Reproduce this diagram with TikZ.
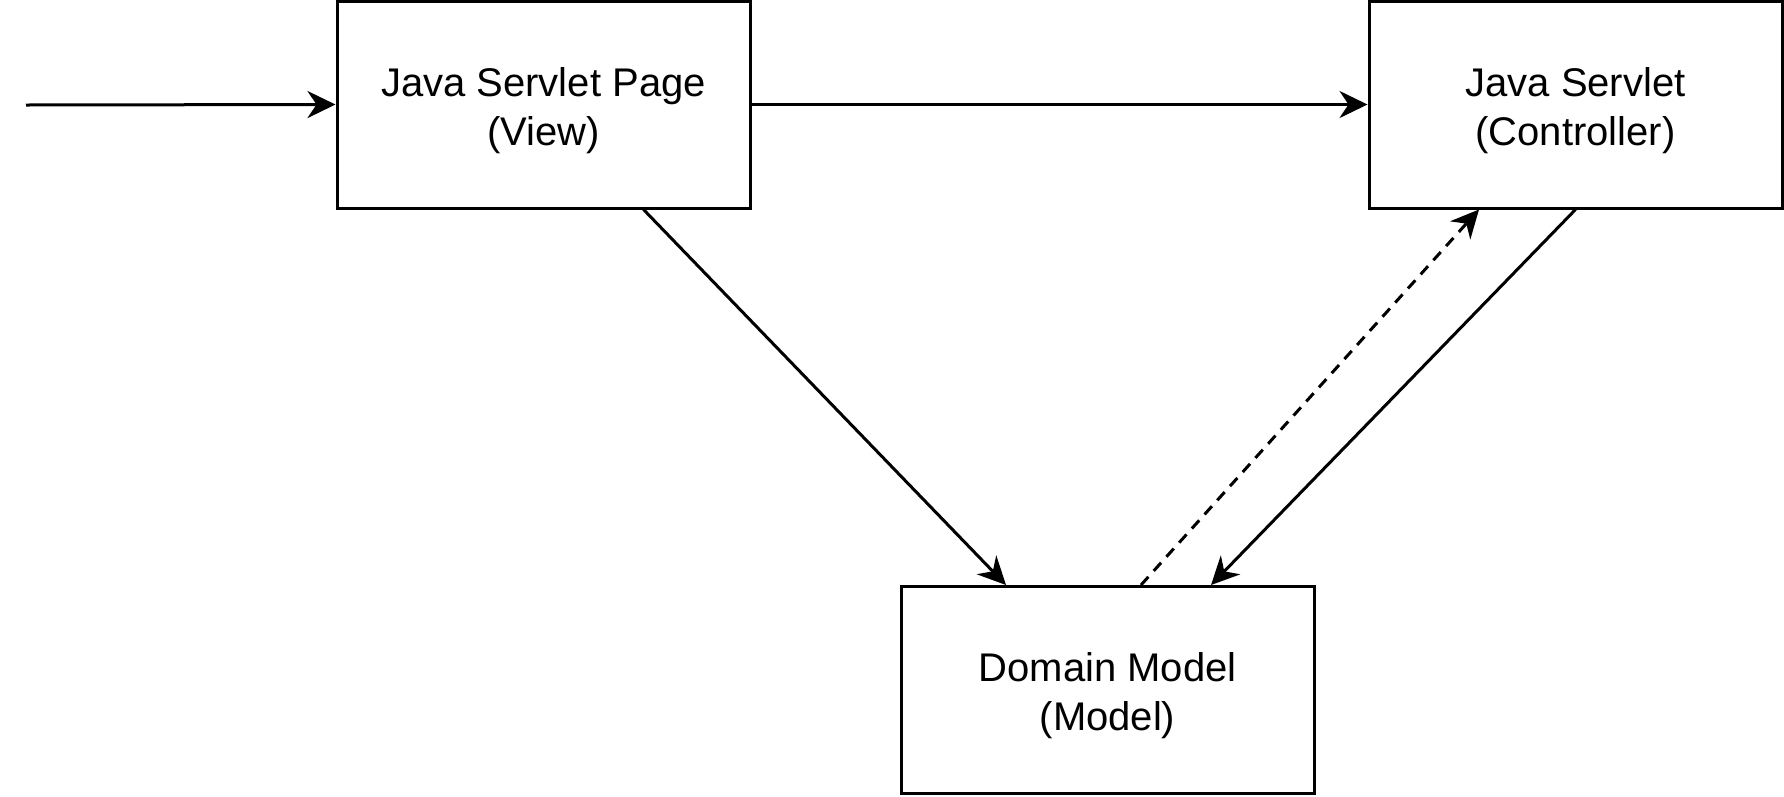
\documentclass[tikz,border=0pt]{standalone}
\usepackage{fontspec}
\setmainfont{Liberation Sans}
\usetikzlibrary{arrows.meta}
\begin{document}
\begin{tikzpicture}[x=1pt,y=-1pt,
  box/.style={draw=black,line width=3pt,fill=white,minimum width=413pt,minimum height=207pt,
    inner sep=0pt},
  label/.style={align=center,font=\fontsize{40}{49}\selectfont},
  conn/.style={draw=black,line width=3pt,-{Stealth[length=28pt,width=27pt,inset=9pt]}},
  dashconn/.style={conn,dash pattern=on 11pt off 8pt}]
\useasboundingbox (0,0) rectangle (1784,796);
\node[box] (view) at (543.5,104.5) {};
\node[box] (ctrl) at (1575.5,104.5) {};
\node[box] (model) at (1107.5,690) {};
\node[label] (viewt) at ([yshift=-6pt]view.center) {Java Servlet Page\\(View)};
\node[label] (ctrlt) at ([yshift=-6pt]ctrl.center) {Java Servlet\\(Controller)};
\node[label] (modelt) at ([yshift=-6pt]model.center) {Domain Model\\(Model)};
\coordinate (in) at (26,105);
\draw[conn] (in) -- (view.west);
\draw[conn] (view.east) -- (ctrl.west);
\draw[conn] ([xshift=100pt]view.south) -- ([xshift=-101.5pt]model.north);
\draw[conn] (ctrl.south) -- ([xshift=103.5pt]model.north);
\draw[dashconn] ([xshift=33.5pt]model.north) -- ([xshift=-96.5pt]ctrl.south);
\end{tikzpicture}
\end{document}
